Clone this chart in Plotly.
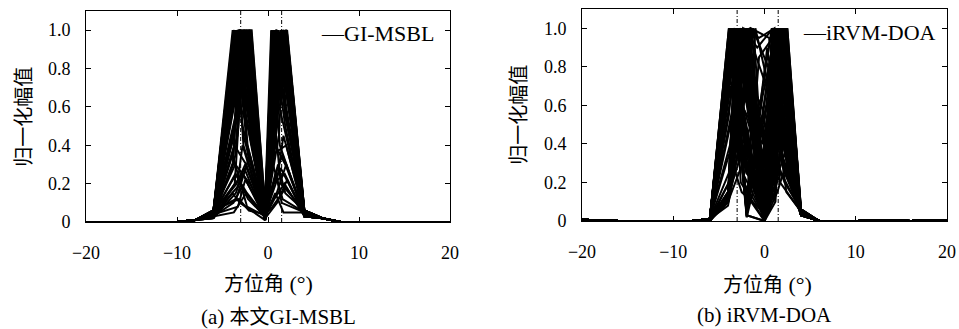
import plotly.graph_objects as go

# ---------------- data: panel (a) GI-MSBL ----------------
GI_TAIL_L_X = [-20, -10, -8]
GI_TAIL_L_Y = [0.0, 0.0, 0.01]
GI_BASE_L_X = -6.0
GI_BASE_R_X = 4.0
GI_TAIL_R_X = [6, 8, 20]
GI_TAIL_R_Y = [0.02, 0.0, 0.0]

GI_A_Y = [0.05, 0.04, 0.06, 0.03, 0.04, 0.02, 0.05, 0.03, 0.04, 0.05, 0.03,
          0.06, 0.04, 0.02, 0.05, 0.04, 0.03, 0.05, 0.04, 0.06, 0.03, 0.05,
          0.04, 0.02, 0.05, 0.04, 0.03, 0.05, 0.04, 0.06, 0.03, 0.05, 0.04,
          0.03, 0.05, 0.04, 0.02, 0.05, 0.04, 0.06, 0.04, 0.05, 0.03, 0.05,
          0.03, 0.05, 0.04, 0.02, 0.05, 0.04, 0.03, 0.06,
          0.04, 0.05, 0.03, 0.04, 0.05, 0.06, 0.04, 0.05,
          0.04, 0.05, 0.03, 0.06, 0.04, 0.05, 0.03, 0.05]
GI_B_X = [-3.88, -3.70, -3.60, -3.85, -3.75, -3.65, -3.30, -3.20, -3.00, -3.40, -3.50,
          -3.65, -3.20, -3.55, -3.45, -3.15, -3.55, -3.75, -3.30, -3.45, -3.10, -3.60,
          -3.35, -3.25, -3.70, -3.50, -3.40, -3.20, -3.85, -3.30, -3.55, -3.45, -3.65,
          -3.15, -3.35, -3.25, -3.75, -3.50, -3.40, -3.30, -3.60, -3.20, -3.80, -3.05,
          -3.80, -3.50, -3.30, -3.90, -3.60, -3.40, -3.75, -3.20,
          -3.60, -3.30, -3.80, -3.10, -3.50, -3.70, -3.25, -3.45,
          -3.70, -3.30, -3.90, -3.50, -3.40, -3.75, -3.15, -3.60]
GI_B_Y = [1.00, 0.97, 1.00, 0.30, 0.45, 0.20, 1.00, 1.00, 0.95, 0.70, 0.55,
          0.85, 1.00, 0.15, 0.20, 1.00, 0.35, 1.00, 0.85, 1.00, 1.00, 1.00,
          0.45, 0.95, 0.50, 1.00, 0.75, 1.00, 0.30, 1.00, 0.65, 1.00, 0.90,
          1.00, 0.60, 1.00, 0.45, 1.00, 0.80, 1.00, 0.25, 1.00, 0.70, 0.60,
          0.10, 0.25, 0.08, 0.15, 0.30, 0.18, 0.05, 0.12,
          1.00, 0.80, 1.00, 1.00, 0.90, 1.00, 1.00, 0.70,
          0.40, 0.22, 0.35, 0.12, 1.00, 0.95, 1.00, 0.85]
GI_C_X = [-2.70, -2.40, -2.20, -3.00, -2.80, -2.60, -2.10, -1.90, -2.30, -2.00, -2.15,
          -2.55, -2.45, -2.75, -2.50, -2.00, -2.85, -2.90, -2.55, -2.65, -1.80, -2.25,
          -2.35, -2.05, -2.20, -2.70, -2.50, -2.15, -3.10, -2.75, -2.10, -2.40, -1.95,
          -2.25, -2.70, -2.05, -3.00, -2.60, -2.85, -2.50, -2.30, -2.40, -1.85, -2.20,
          -2.90, -2.20, -2.50, -3.10, -2.00, -2.60, -2.40, -2.10,
          -2.50, -2.20, -2.70, -2.00, -2.30, -2.80, -2.15, -2.60,
          -2.40, -2.80, -2.30, -2.00, -2.30, -2.60, -2.10, -2.45]
GI_C_Y = [0.45, 0.60, 0.35, 1.00, 1.00, 1.00, 0.95, 0.85, 1.00, 1.00, 1.00,
          1.00, 0.90, 0.25, 0.30, 0.95, 1.00, 0.80, 1.00, 0.60, 1.00, 0.70,
          1.00, 1.00, 1.00, 0.40, 1.00, 0.70, 1.00, 0.95, 1.00, 0.55, 1.00,
          0.40, 1.00, 0.85, 1.00, 0.75, 1.00, 0.65, 0.15, 0.95, 1.00, 0.50,
          0.18, 0.12, 0.22, 0.10, 0.20, 0.28, 0.15, 0.06,
          0.70, 1.00, 0.90, 0.60, 1.00, 0.50, 0.80, 1.00,
          0.30, 0.40, 0.08, 0.35, 0.85, 1.00, 0.75, 1.00]
GI_D_X = [-0.35, -0.30, -0.28, -0.35, -0.30, -0.40, -0.30, -0.33, -0.28, -0.32, -0.25,
          -0.38, -0.30, -0.35, -0.27, -0.30, -0.33, -0.40, -0.28, -0.35, -0.33, -0.30,
          -0.25, -0.32, -0.38, -0.30, -0.27, -0.30, -0.40, -0.35, -0.30, -0.28, -0.33,
          -0.25, -0.35, -0.30, -0.38, -0.32, -0.27, -0.30, -0.30, -0.35, -0.30, -0.28,
          -0.30, -0.35, -0.28, -0.32, -0.30, -0.35, -0.30, -0.27,
          -0.30, -0.33, -0.30, -0.35, -0.28, -0.32, -0.30, -0.33,
          -0.30, -0.35, -0.28, -0.32, -0.30, -0.33, -0.28, -0.35]
GI_D_Y = [0.03, 0.02, 0.05, 0.04, 0.01, 0.03, 0.06, 0.04, 0.04, 0.05, 0.03,
          0.01, 0.03, 0.02, 0.02, 0.05, 0.03, 0.02, 0.04, 0.03, 0.09, 0.05,
          0.01, 0.04, 0.03, 0.02, 0.06, 0.03, 0.04, 0.05, 0.02, 0.04, 0.01,
          0.03, 0.04, 0.05, 0.02, 0.03, 0.04, 0.02, 0.03, 0.02, 0.07, 0.04,
          0.02, 0.03, 0.04, 0.01, 0.05, 0.02, 0.03, 0.04,
          0.03, 0.02, 0.04, 0.01, 0.05, 0.03, 0.02, 0.04,
          0.03, 0.02, 0.03, 0.05, 0.02, 0.04, 0.03, 0.02]
GI_E1_X = [0.50, 0.40, 0.80, 0.60, 1.00, 0.45, 1.10, 0.70, 0.95, 0.55, 0.85,
           0.75, 1.15, 0.90, 0.60, 0.65, 1.10, 0.80, 0.95, 1.20, 0.35, 0.50,
           1.00, 0.40, 0.85, 0.50, 0.60, 0.90, 0.75, 0.45, 0.95, 1.20, 0.55,
           1.00, 0.60, 0.70, 0.90, 0.40, 0.85, 0.70, 0.65, 0.55, 0.38, 1.05,
           0.60, 0.90, 1.00, 0.50, 0.75, 1.10, 0.65, 0.85,
           0.70, 0.90, 0.50, 1.10, 0.60, 0.80, 1.00, 0.55,
           0.80, 0.60, 1.00, 0.70, 0.80, 1.00, 0.45, 0.90]
GI_E1_Y = [0.40, 1.00, 1.00, 0.35, 1.00, 0.80, 1.00, 0.45, 0.90, 1.00, 0.55,
           0.65, 0.95, 1.00, 0.85, 0.40, 0.85, 0.25, 0.15, 0.80, 1.00, 0.60,
           0.50, 0.90, 0.70, 0.35, 1.00, 1.00, 0.55, 0.95, 1.00, 0.45, 0.80,
           1.00, 0.50, 0.75, 1.00, 0.65, 0.90, 0.40, 0.70, 0.20, 0.90, 1.00,
           1.00, 0.70, 1.00, 0.90, 1.00, 0.90, 0.80, 1.00,
           0.12, 0.25, 0.08, 0.30, 0.20, 0.15, 0.10, 0.30,
           1.00, 0.75, 0.95, 1.00, 0.40, 0.22, 0.35, 0.45]
GI_E2_X = [1.80, 1.90, 1.70, 1.50, 2.00, 2.05, 2.00, 1.40, 1.75, 1.85, 1.55,
           1.65, 2.10, 1.70, 1.95, 1.50, 1.80, 1.60, 2.00, 1.90, 1.30, 1.60,
           1.75, 2.05, 1.55, 1.35, 1.95, 1.65, 1.85, 1.70, 2.10, 1.80, 1.50,
           1.90, 1.60, 2.00, 1.75, 1.85, 1.45, 1.55, 1.70, 1.85, 1.25, 1.60,
           1.70, 1.80, 2.00, 1.50, 1.90, 2.05, 1.60, 1.75,
           1.80, 1.50, 2.00, 1.90, 1.40, 1.70, 2.10, 1.60,
           1.80, 1.60, 1.95, 1.50, 1.90, 1.70, 2.00, 1.40]
GI_E2_Y = [1.00, 0.50, 0.95, 1.00, 0.70, 1.00, 0.60, 1.00, 1.00, 0.80, 1.00,
           1.00, 1.00, 0.90, 1.00, 1.00, 1.00, 0.35, 0.30, 1.00, 0.40, 0.90,
           1.00, 0.75, 1.00, 1.00, 0.55, 0.85, 1.00, 1.00, 0.65, 1.00, 1.00,
           0.55, 1.00, 1.00, 0.95, 1.00, 1.00, 0.85, 1.00, 0.25, 0.60, 0.80,
           0.80, 1.00, 0.90, 1.00, 0.60, 1.00, 1.00, 0.95,
           0.20, 0.10, 0.18, 0.15, 0.28, 0.05, 0.22, 0.12,
           0.85, 1.00, 1.00, 0.70, 0.30, 0.45, 0.40, 0.20]
GI_F_Y = [0.04, 0.03, 0.05, 0.04, 0.05, 0.06, 0.03, 0.04, 0.05, 0.04, 0.03,
          0.05, 0.06, 0.04, 0.05, 0.03, 0.04, 0.04, 0.05, 0.06, 0.03, 0.04,
          0.05, 0.04, 0.03, 0.05, 0.04, 0.06, 0.05, 0.04, 0.03, 0.05, 0.04,
          0.06, 0.03, 0.05, 0.04, 0.05, 0.04, 0.05, 0.05, 0.04, 0.03, 0.05,
          0.04, 0.05, 0.03, 0.04, 0.05, 0.06, 0.04, 0.05,
          0.03, 0.05, 0.04, 0.06, 0.04, 0.05, 0.03, 0.05,
          0.04, 0.05, 0.04, 0.05, 0.04, 0.05, 0.03, 0.06]

# ---------------- data: panel (b) iRVM-DOA ----------------
RV_TAIL_L_X = [-20, -18, -16, -12, -8]
RV_TAIL_L_Y = [0.006, 0.003, 0.0, 0.0, 0.0]
RV_BASE_L_X = -6.0
RV_BASE_R_X = 4.0
RV_TAIL_R_X = [6, 10, 14, 16, 20]
RV_TAIL_R_Y = [0.0, 0.0, 0.003, 0.0, 0.004]

RV_A_Y = [0.01, 0.01, 0.00, 0.01, 0.01, 0.00, 0.01, 0.01, 0.00, 0.01, 0.01, 0.00,
          0.01, 0.01, 0.00, 0.01, 0.01, 0.00, 0.01, 0.01, 0.00, 0.01, 0.01, 0.00,
          0.01, 0.01, 0.00, 0.01, 0.01, 0.00, 0.01, 0.01, 0.00, 0.01, 0.01, 0.00,
          0.01, 0.01, 0.00, 0.01, 0.01, 0.00, 0.01, 0.01, 0.00, 0.01, 0.01, 0.00,
          0.01, 0.00, 0.01, 0.01, 0.00, 0.01, 0.01, 0.00,
          0.01, 0.01, 0.00, 0.01, 0.01, 0.00, 0.01, 0.01,
          0.01, 0.00, 0.01, 0.01, 0.00, 0.01, 0.01, 0.00, 0.01, 0.01, 0.00, 0.01]
RV_B_X = [-3.86, -4.00, -4.00, -3.70, -3.95, -3.60, -4.00, -3.50, -3.90, -3.75, -4.00, -3.30,
          -4.00, -3.80, -3.95, -3.65, -4.00, -3.55, -4.00, -3.85, -3.90, -4.00, -3.45, -4.00,
          -3.60, -3.95, -3.70, -4.00, -3.80, -4.00, -3.50, -3.90, -3.65, -4.00, -3.75, -4.00,
          -3.40, -3.95, -3.85, -4.00, -3.20, -3.05, -3.60, -3.35, -4.00, -3.75, -3.10, -3.55,
          -3.60, -3.80, -4.00, -3.90, -3.50, -3.70, -4.00, -3.30,
          -3.85, -3.45, -4.00, -3.65, -3.20, -3.90, -4.00, -3.55,
          -3.55, -3.75, -4.00, -3.40, -4.00, -3.60, -4.00, -3.90, -3.30, -4.00, -3.70, -3.50]
RV_B_Y = [1.00, 0.12, 0.15, 1.00, 0.10, 1.00, 0.13, 0.95, 0.20, 1.00, 0.11, 1.00,
          0.14, 0.85, 0.12, 1.00, 0.10, 1.00, 0.15, 0.50, 1.00, 0.12, 1.00, 0.13,
          0.90, 0.14, 1.00, 0.11, 1.00, 0.15, 1.00, 0.25, 0.75, 0.12, 1.00, 0.10,
          1.00, 0.13, 0.60, 0.14, 1.00, 1.00, 1.00, 1.00, 0.12, 0.40, 1.00, 1.00,
          1.00, 0.90, 0.10, 0.20, 0.55, 1.00, 0.08, 1.00,
          0.35, 1.00, 0.14, 0.80, 1.00, 0.55, 0.12, 1.00,
          1.00, 1.00, 0.12, 1.00, 0.10, 1.00, 0.13, 1.00, 1.00, 0.11, 0.70, 1.00]
RV_C_X = [-1.95, -3.05, -2.80, -2.50, -2.30, -1.95, -2.10, -1.60, -3.00, -2.70, -1.40, -1.95,
          -2.60, -2.90, -1.20, -2.20, -3.15, -1.95, -2.40, -1.80, -2.90, -2.00, -2.60, -3.10,
          -1.50, -2.75, -1.95, -2.35, -2.20, -1.70, -2.80, -3.00, -2.45, -1.30, -1.95, -2.55,
          -2.10, -2.95, -2.25, -1.90, -2.30, -2.00, -2.60, -1.95, -2.65, -2.05, -2.20, -2.45,
          -2.20, -2.60, -2.40, -2.80, -2.00, -2.30, -2.90, -1.60,
          -2.50, -2.70, -2.20, -1.80, -2.40, -3.00, -2.00, -2.85,
          -1.95, -1.95, -2.60, -1.95, -2.80, -2.10, -1.50, -1.95, -2.50, -2.10, -2.00, -2.30]
RV_C_Y = [0.03, 1.00, 1.00, 0.60, 1.00, 0.05, 1.00, 1.00, 1.00, 0.40, 1.00, 0.02,
          1.00, 1.00, 1.00, 0.80, 1.00, 0.04, 1.00, 1.00, 0.70, 1.00, 0.50, 1.00,
          1.00, 1.00, 0.03, 1.00, 0.30, 1.00, 0.85, 1.00, 1.00, 1.00, 0.06, 1.00,
          0.90, 1.00, 1.00, 1.00, 0.45, 0.35, 0.20, 0.25, 0.70, 1.00, 0.55, 0.35,
          0.15, 1.00, 0.30, 0.45, 0.25, 0.75, 0.35, 0.55,
          0.15, 0.65, 0.50, 0.40, 0.25, 1.00, 0.70, 0.30,
          0.03, 0.05, 1.00, 0.04, 0.60, 0.45, 0.50, 0.02, 0.30, 0.65, 0.15, 0.20]
RV_D_X = [0.00, 0.00, 0.00, -0.20, 0.00, -0.60, 0.00, 0.00, -0.10, 0.00, 0.00, 0.30,
          -0.15, 0.00, 0.00, 0.00, -0.50, -1.00, 0.00, -0.10, 0.00, 0.20, 0.00, 0.00,
          0.50, -0.30, 0.00, -0.60, 0.00, 0.00, 0.10, 0.00, 0.00, 0.40, -0.20, 0.00,
          0.00, -0.10, -0.80, 0.00, -0.05, 0.00, 0.00, -0.20, -0.40, 0.00, 0.00, -0.10,
          0.00, -0.30, -0.20, 0.00, -0.40, 0.00, -0.10, 0.00,
          -0.20, -0.10, 0.00, -0.30, 0.00, -0.60, 0.00, -0.20,
          -0.50, 0.20, 0.00, -0.45, 0.00, 0.00, 0.00, 0.50, -0.30, 0.00, -0.60, 0.00]
RV_D_Y = [0.00, 0.00, 0.02, 0.40, 0.00, 0.85, 0.00, 0.05, 0.30, 0.00, 0.00, 0.90,
          0.45, 0.00, 0.10, 0.00, 0.60, 1.00, 0.00, 0.20, 0.00, 0.70, 0.00, 0.03,
          0.95, 0.35, 0.00, 0.95, 0.00, 0.00, 0.55, 0.00, 0.00, 0.80, 0.65, 0.00,
          0.00, 0.15, 0.90, 0.00, 0.08, 0.00, 0.00, 0.30, 0.50, 0.00, 0.00, 0.10,
          0.00, 0.05, 0.20, 0.00, 0.15, 0.00, 0.10, 0.00,
          0.05, 0.25, 0.00, 0.10, 0.02, 0.35, 0.00, 0.55,
          0.45, 0.60, 0.00, 0.50, 0.00, 0.00, 0.00, 0.50, 0.45, 0.00, 0.40, 0.02]
RV_E1_X = [0.90, 1.20, 1.00, 1.30, 1.00, 0.90, 1.40, 0.85, 1.40, 1.10, 1.00, 1.50,
           1.10, 0.95, 1.30, 1.20, 0.80, 0.90, 1.50, 1.20, 1.00, 1.30, 1.20, 0.95,
           1.40, 1.00, 1.20, 1.10, 1.40, 0.90, 1.30, 0.85, 1.50, 1.10, 1.30, 1.25,
           1.00, 1.20, 0.95, 1.30, 0.90, 1.00, 1.40, 0.90, 0.85, 1.45, 1.10, 1.00,
           1.20, 0.90, 1.10, 1.00, 1.30, 1.20, 0.90, 1.40,
           1.00, 1.10, 1.30, 0.90, 1.50, 1.00, 0.80, 1.20,
           1.00, 1.20, 0.90, 1.30, 1.10, 0.90, 1.20, 1.40, 1.00, 0.85, 1.10, 1.30]
RV_E1_Y = [0.40, 1.00, 0.60, 0.80, 1.00, 0.95, 0.55, 0.30, 1.00, 0.70, 0.25, 0.50,
           1.00, 0.50, 1.00, 0.45, 1.00, 0.60, 1.00, 0.60, 1.00, 0.35, 0.90, 0.65,
           0.60, 0.45, 0.30, 1.00, 1.00, 0.80, 0.40, 1.00, 0.70, 0.50, 1.00, 0.85,
           0.75, 0.50, 1.00, 0.60, 0.55, 0.20, 0.35, 0.70, 0.90, 0.80, 0.95, 0.30,
           0.20, 0.15, 1.00, 0.50, 1.00, 0.25, 0.60, 0.15,
           1.00, 0.35, 0.75, 1.00, 0.45, 0.20, 0.40, 0.30,
           0.50, 0.30, 0.25, 0.20, 0.15, 0.35, 0.10, 0.25, 0.10, 0.55, 1.00, 0.65]
RV_E2_X = [1.80, 2.10, 2.00, 1.80, 2.20, 1.60, 2.30, 1.60, 2.00, 2.10, 1.90, 2.50,
           1.90, 1.70, 2.40, 2.20, 1.50, 1.70, 2.30, 2.40, 1.80, 1.80, 2.00, 2.00,
           2.30, 1.60, 1.90, 2.20, 2.10, 2.10, 1.70, 1.90, 2.45, 1.50, 2.00, 1.75,
           2.20, 2.20, 1.60, 1.85, 1.90, 2.00, 2.30, 1.60, 1.60, 2.50, 1.80, 2.10,
           2.20, 1.80, 2.10, 2.00, 2.30, 2.00, 1.90, 2.40,
           1.80, 2.20, 2.10, 2.00, 2.40, 1.70, 1.60, 2.20,
           2.00, 2.20, 1.90, 2.30, 2.00, 1.70, 2.10, 2.30, 1.80, 2.40, 2.00, 2.20]
RV_E2_Y = [0.95, 0.50, 1.00, 1.00, 0.45, 0.70, 1.00, 0.90, 0.60, 1.00, 1.00, 1.00,
           0.35, 0.80, 0.30, 1.00, 0.40, 0.20, 0.65, 1.00, 0.55, 1.00, 0.40, 1.00,
           0.85, 1.00, 0.70, 0.50, 0.75, 0.95, 1.00, 0.30, 1.00, 1.00, 0.45, 1.00,
           0.60, 1.00, 0.55, 1.00, 1.00, 0.90, 1.00, 1.00, 1.00, 1.00, 0.60, 0.80,
           0.35, 0.25, 0.70, 1.00, 0.85, 0.40, 1.00, 0.30,
           0.85, 0.20, 1.00, 0.50, 0.15, 0.45, 1.00, 0.60,
           0.90, 0.80, 0.55, 0.60, 1.00, 0.50, 1.00, 0.45, 0.35, 1.00, 0.30, 0.25]
RV_F_Y = [0.04, 0.03, 0.05, 0.04, 0.03, 0.04, 0.05, 0.04, 0.03, 0.05, 0.04, 0.06,
          0.03, 0.04, 0.05, 0.04, 0.03, 0.05, 0.04, 0.06, 0.03, 0.04, 0.05, 0.04,
          0.03, 0.05, 0.04, 0.04, 0.06, 0.03, 0.05, 0.04, 0.05, 0.04, 0.03, 0.05,
          0.04, 0.04, 0.06, 0.03, 0.04, 0.05, 0.04, 0.03, 0.05, 0.04, 0.05, 0.04,
          0.04, 0.05, 0.03, 0.04, 0.05, 0.04, 0.03, 0.05,
          0.04, 0.06, 0.03, 0.04, 0.05, 0.04, 0.03, 0.05,
          0.04, 0.05, 0.03, 0.04, 0.05, 0.04, 0.03, 0.05, 0.04, 0.06, 0.03, 0.05]

TRUE_DOA = [-3.0, 1.5]
X_TICKS = [-20, -10, 0, 10, 20]
Y_TICKS = [0, 0.2, 0.4, 0.6, 0.8, 1.0]
Y_TICKTEXT = ["0", "0.2", "0.4", "0.6", "0.8", "1.0"]
X_TITLE_CJK = "方位角"
X_TITLE_UNIT = " (°)"
Y_TITLE = "归一化幅值"
CAPTION_PREFIX = ["(a) ", "(b) "]
CAPTION_CJK = ["本文", ""]
LEGENDS = ["GI-MSBL", "iRVM-DOA"]

_gi = [GI_A_Y, GI_B_X, GI_B_Y, GI_C_X, GI_C_Y, GI_D_X, GI_D_Y,
       GI_E1_X, GI_E1_Y, GI_E2_X, GI_E2_Y, GI_F_Y]
_rv = [RV_A_Y, RV_B_X, RV_B_Y, RV_C_X, RV_C_Y, RV_D_X, RV_D_Y,
       RV_E1_X, RV_E1_Y, RV_E2_X, RV_E2_Y, RV_F_Y]
assert len(set(len(a) for a in _gi)) == 1, [len(a) for a in _gi]
assert len(set(len(a) for a in _rv)) == 1, [len(a) for a in _rv]


# ---------------- build polylines ----------------
def gi_lines():
    xs, ys = [], []
    for i in range(len(GI_A_Y)):
        xs += GI_TAIL_L_X + [GI_BASE_L_X, GI_B_X[i], GI_C_X[i], GI_D_X[i],
                             GI_E1_X[i], GI_E2_X[i], GI_BASE_R_X] + GI_TAIL_R_X + [None]
        ys += GI_TAIL_L_Y + [GI_A_Y[i], GI_B_Y[i], GI_C_Y[i], GI_D_Y[i],
                             GI_E1_Y[i], GI_E2_Y[i], GI_F_Y[i]] + GI_TAIL_R_Y + [None]
    return xs, ys


def rv_lines():
    xs, ys = [], []
    for i in range(len(RV_A_Y)):
        xs += RV_TAIL_L_X + [RV_BASE_L_X, RV_B_X[i], RV_C_X[i], RV_D_X[i],
                             RV_E1_X[i], RV_E2_X[i], RV_BASE_R_X] + RV_TAIL_R_X + [None]
        ys += RV_TAIL_L_Y + [RV_A_Y[i], RV_B_Y[i], RV_C_Y[i], RV_D_Y[i],
                             RV_E1_Y[i], RV_E2_Y[i], RV_F_Y[i]] + RV_TAIL_R_Y + [None]
    return xs, ys


SERIF = "Liberation Serif, Noto Sans CJK SC, serif"
CJK = "Noto Sans CJK SC"
LW = 2.0
fig = go.Figure()

gx, gy = gi_lines()
fig.add_trace(go.Scatter(x=gx, y=gy, mode="lines", name=LEGENDS[0],
                         line=dict(color="black", width=LW), showlegend=False,
                         xaxis="x", yaxis="y"))
rx, ry = rv_lines()
fig.add_trace(go.Scatter(x=rx, y=ry, mode="lines", name=LEGENDS[1],
                         line=dict(color="black", width=LW), showlegend=False,
                         xaxis="x2", yaxis="y2"))

for ax, ay in (("x", "y"), ("x2", "y2")):
    for d in TRUE_DOA:
        fig.add_trace(go.Scatter(x=[d, d], y=[0, 1.1], mode="lines",
                                 line=dict(color="black", width=1, dash="4px,2px,1px,2px"),
                                 showlegend=False, xaxis=ax, yaxis=ay))

W, H = 959, 329


def px(xp):
    return xp / W


def py(yp):
    return 1 - yp / H


common_x = dict(range=[-20, 20], tickvals=X_TICKS, ticks="inside", ticklen=5,
                tickcolor="black", showline=True, linecolor="black", linewidth=1,
                mirror="ticks", showgrid=False, zeroline=False, automargin=False,
                tickfont=dict(family=SERIF, size=18, color="black"),
                ticklabelstandoff=14)
common_y = dict(range=[0, 1.1], tickvals=Y_TICKS, ticktext=Y_TICKTEXT, ticks="inside",
                ticklen=5, tickcolor="black", showline=True, linecolor="black",
                linewidth=1, mirror="ticks", showgrid=False, zeroline=False,
                automargin=False,
                tickfont=dict(family=SERIF, size=18, color="black"),
                ticklabelstandoff=11)

fig.update_layout(
    template="none",
    width=W, height=H, margin=dict(l=0, r=0, t=0, b=0, autoexpand=False),
    paper_bgcolor="white", plot_bgcolor="white",
    xaxis=dict(domain=[px(86), px(450)], anchor="y", **common_x),
    yaxis=dict(domain=[py(222), py(11)], anchor="x", **common_y),
    xaxis2=dict(domain=[px(582), px(947)], anchor="y2", **common_x),
    yaxis2=dict(domain=[py(221), py(9)], anchor="x2", **common_y),
)


def cjk(s, size=20):
    return f'<span style="font-family:{CJK};font-size:{size}px">{s}</span>' if s else ""


ann = []
for cx, cy in ((268.5, 282), (767, 283)):
    ann.append(dict(text=cjk(X_TITLE_CJK) + X_TITLE_UNIT, x=px(cx), y=py(cy),
                    xref="paper", yref="paper", xanchor="center", yanchor="middle",
                    showarrow=False, font=dict(family=SERIF, size=22, color="black")))
for cx, cy in ((21.7, 117), (516.7, 115)):
    ann.append(dict(text=Y_TITLE, x=px(cx), y=py(cy), xref="paper", yref="paper",
                    xanchor="center", yanchor="middle", showarrow=False, textangle=-90,
                    font=dict(family=CJK, size=20, color="black")))
for i, (cx, cy) in enumerate(((278, 315), (764, 315))):
    ann.append(dict(text=CAPTION_PREFIX[i] + cjk(CAPTION_CJK[i]) + LEGENDS[i],
                    x=px(cx), y=py(cy), xref="paper", yref="paper",
                    xanchor="center", yanchor="middle", showarrow=False,
                    font=dict(family=SERIF, size=21, color="black")))
for lab, rx_, cy in ((LEGENDS[0], 436, 34), (LEGENDS[1], 938, 32)):
    ann.append(dict(text="—" + lab, x=px(rx_), y=py(cy), xref="paper", yref="paper",
                    xanchor="right", yanchor="middle", showarrow=False,
                    font=dict(family=SERIF, size=22, color="black")))
fig.update_layout(annotations=ann)

fig.write_html("out.html")
